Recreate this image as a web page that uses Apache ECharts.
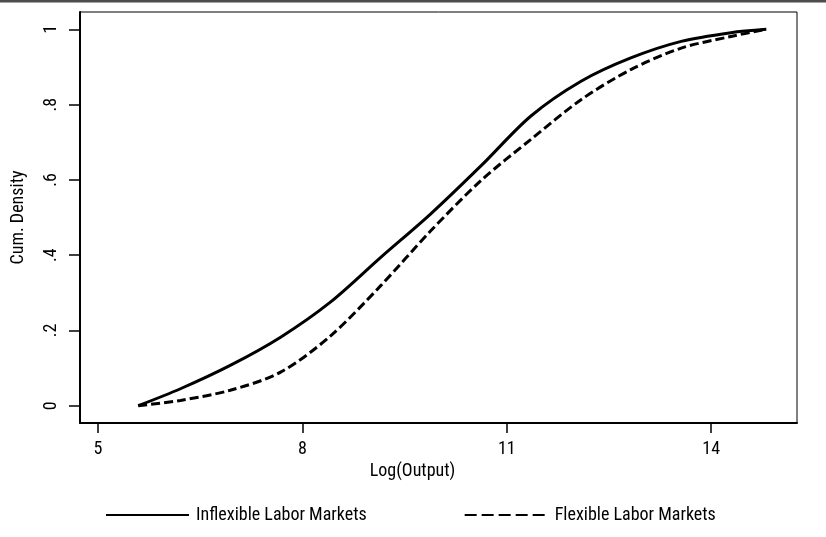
<!DOCTYPE html>
<html>
<head>
<meta charset="utf-8">
<script src="https://cdn.jsdelivr.net/npm/echarts@6/dist/echarts.min.js"></script>
<style>html,body{margin:0;padding:0;background:#fff}#c{width:826px;height:537px}</style>
</head>
<body>
<div id="c"></div>
<script>
var FONT = "'Liberation Sans Narrow','Arial Narrow','Nimbus Sans Narrow','Roboto Condensed',sans-serif";
var xTicks = [5, 8, 11, 14];
var yTicks = [0, 0.2, 0.4, 0.6, 0.8, 1];
var yTickLabels = ['0', '.2', '.4', '.6', '.8', '1'];

var inflexX = [5.59, 6.21, 6.94, 7.68, 8.41, 9.15, 9.88, 10.62, 11.35, 12.09, 12.82, 13.56, 14.29, 14.81];
var inflexY = [0, 0.045, 0.107, 0.182, 0.275, 0.394, 0.509, 0.637, 0.769, 0.862, 0.924, 0.968, 0.991, 1];

var flexX = [5.59, 6.21, 6.94, 7.68, 8.41, 9.15, 9.88, 10.62, 11.35, 12.09, 12.82, 13.56, 14.29, 14.81];
var flexY = [0, 0.014, 0.041, 0.089, 0.185, 0.319, 0.464, 0.598, 0.707, 0.813, 0.893, 0.950, 0.981, 1];

function pairs(xs, ys){ return xs.map(function(x,i){ return [x, ys[i]]; }); }

var chart = echarts.init(document.getElementById('c'));
chart.setOption({
  animation: false,
  textStyle: {fontFamily: FONT},
  graphic: [{type:'rect', shape:{x:0,y:0,width:826,height:2.5}, style:{fill:'#4d4d4d'}, silent:true}],
  grid: {left: 80, right: 29, top: 12, bottom: 114, show: true, borderColor: '#000', borderWidth: 1, backgroundColor: '#fff'},
  xAxis: {
    type: 'value', min: 4.735, max: 15.26,
    name: 'Log(Output)', nameLocation: 'middle', nameGap: 36,
    nameTextStyle: {fontFamily: FONT, fontSize: 18, color: '#000', padding: [0, 52, 0, 0]},
    axisLine: {show: true, onZero: false, lineStyle: {color: '#000', width: 2}},
    axisTick: {show: true, length: 10, customValues: xTicks, lineStyle: {color: '#000', width: 1.5}},
    axisLabel: {customValues: xTicks, margin: 17, fontFamily: FONT, fontSize: 18, color: '#000'},
    splitLine: {show: false}
  },
  yAxis: {
    type: 'value', min: -0.046, max: 1.046,
    name: 'Cum. Density', nameLocation: 'middle', nameGap: 53,
    nameTextStyle: {fontFamily: FONT, fontSize: 18, color: '#000'},
    axisLine: {show: true, onZero: false, lineStyle: {color: '#000', width: 2}},
    axisTick: {show: true, length: 11, customValues: yTicks, lineStyle: {color: '#000', width: 1.5}},
    axisLabel: {customValues: yTicks, rotate: 90, margin: 20, fontFamily: FONT, fontSize: 18, color: '#000',
      formatter: function(v){ var i = yTicks.indexOf(Math.round(v*10)/10); return i >= 0 ? yTickLabels[i] : ''; }},
    splitLine: {show: false}
  },
  legend: {
    left: 100, top: 501, itemWidth: 83, itemHeight: 18, itemGap: 97,
    textStyle: {fontFamily: FONT, fontSize: 18, color: '#000', padding: [0, 0, 0, 2]},
    itemStyle: {color: 'rgba(0,0,0,0)', borderWidth: 0, opacity: 0},
    lineStyle: {width: 2, color: '#000'},
    data: [
      {name: 'Inflexible Labor Markets'},
      {name: 'Flexible Labor Markets', lineStyle: {type: [12, 5], width: 2, color: '#000'}}
    ]
  },
  series: [
    {name: 'Inflexible Labor Markets', type: 'line', smooth: 0.3, showSymbol: false, symbol: 'none',
     data: pairs(inflexX, inflexY), lineStyle: {color: '#000', width: 3}, itemStyle: {color: '#000'}},
    {name: 'Flexible Labor Markets', type: 'line', smooth: 0.3, showSymbol: false, symbol: 'none',
     data: pairs(flexX, flexY), lineStyle: {color: '#000', width: 3, type: [9, 4]}, itemStyle: {color: '#000'}}
  ]
});
</script>
</body>
</html>
